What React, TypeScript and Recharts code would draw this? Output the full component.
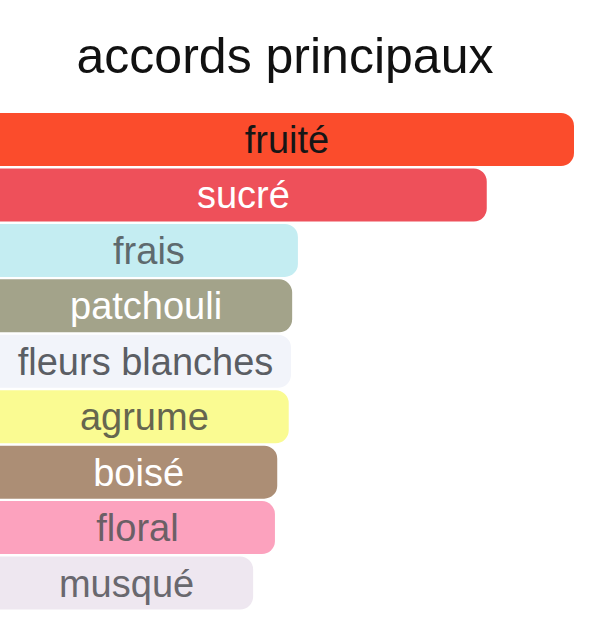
import { BarChart, Bar, XAxis, YAxis, Cell, LabelList } from 'recharts'

// accord names, top to bottom
const accords = [
  'fruité',
  'sucré',
  'frais',
  'patchouli',
  'fleurs blanches',
  'agrume',
  'boisé',
  'floral',
  'musqué',
]

// relative strength (% of the strongest accord)
const strengths = [100, 84.8, 51.9, 50.9, 50.7, 50.3, 48.3, 47.9, 44.1]

const barColors = [
  '#FB4C2C',
  '#EE505A',
  '#C4EDF2',
  '#A3A38A',
  '#F2F4FA',
  '#FAFB92',
  '#AC8E75',
  '#FCA2BE',
  '#EEE7F0',
]

const textColors = [
  '#161616',
  '#FFFFFF',
  '#5E6A6E',
  '#FFFFFF',
  '#5B5E64',
  '#66664F',
  '#FFFFFF',
  '#6C5F66',
  '#69686E',
]

const data = accords.map((name, i) => ({ name, value: strengths[i] }))

const FONT = '"Liberation Sans", Arial, Helvetica, sans-serif'

function BarLabel(props: any) {
  const { x, y, width, height, index, value } = props
  return (
    <text
      x={Number(x) + Number(width) / 2}
      y={Number(y) + Number(height) / 2 + 13.5}
      textAnchor="middle"
      fontSize={38}
      fontFamily={FONT}
      fill={textColors[index]}
    >
      {value}
    </text>
  )
}

export default function App() {
  return (
    <div style={{ position: 'absolute', left: 0, top: 0, width: 600, height: 620, background: '#fff' }}>
      <div
        style={{
          position: 'absolute',
          left: 0,
          top: 28,
          width: 570,
          textAlign: 'center',
          fontFamily: FONT,
          fontSize: 50,
          color: '#111',
          lineHeight: '56px',
        }}
      >
        accords principaux
      </div>
      <BarChart
        width={600}
        height={620}
        data={data}
        layout="vertical"
        margin={{ top: 112, right: 26, bottom: 9, left: 0 }}
        barCategoryGap={1}
      >
        <XAxis type="number" domain={[0, 100]} hide />
        <YAxis type="category" dataKey="name" hide />
        <Bar dataKey="value" radius={[0, 13, 13, 0]} isAnimationActive={false}>
          {data.map((d, i) => (
            <Cell key={d.name} fill={barColors[i]} />
          ))}
          <LabelList dataKey="name" content={BarLabel} />
        </Bar>
      </BarChart>
    </div>
  )
}
